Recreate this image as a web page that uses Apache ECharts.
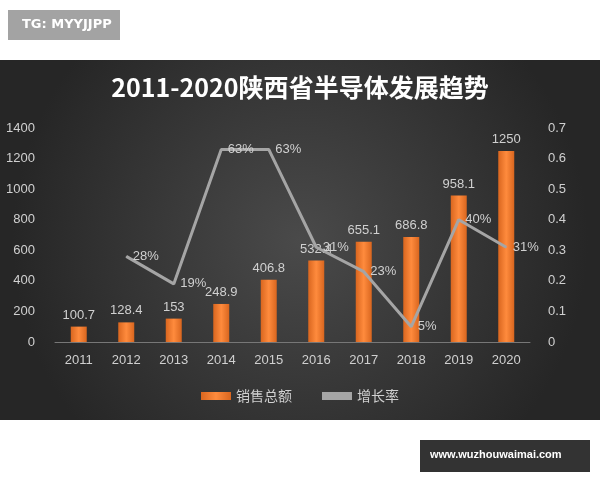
<!DOCTYPE html><html><head><meta charset="utf-8">
<script src="https://cdn.jsdelivr.net/npm/echarts@6/dist/echarts.min.js"></script>
<style>html,body{margin:0;padding:0;background:#fff}#c{width:600px;height:480px}</style></head><body>
<div id="c"></div>
<script>
const years=['2011','2012','2013','2014','2015','2016','2017','2018','2019','2020'];
const sales=[100.7,128.4,153,248.9,406.8,532.4,655.1,686.8,958.1,1250];
const growth=[null,0.28,0.19,0.63,0.63,0.31,0.23,0.05,0.40,0.31];
const chart=echarts.init(document.getElementById('c'));
const txt='#d0d0d0';
chart.setOption({
 backgroundColor:'#fff',
 graphic:[
  {type:'rect',z:-10,shape:{x:0,y:60,width:600,height:360},style:{fill:new echarts.graphic.RadialGradient(0.5,0.5,0.8,[{offset:0,color:'#4a4a4a'},{offset:1,color:'#262626'}])}},
  {type:'rect',shape:{x:8,y:10,width:112,height:30},style:{fill:'#a3a3a3'}},
  {type:'text',left:22,top:18,style:{text:'TG: MYYJJPP',fill:'#fff',font:'bold 13px "DejaVu Sans"'}},
  {type:'rect',shape:{x:420,y:440,width:170,height:32},style:{fill:'#333'}},
  {type:'text',left:430,top:449,style:{text:'www.wuzhouwaimai.com',fill:'#fff',font:'bold 11px "Liberation Sans"'}}
 ],
 title:{text:'2011-2020陕西省半导体发展趋势',left:'center',top:70,textStyle:{color:'#fff',fontSize:25,fontWeight:'bold',fontFamily:'"Noto Sans CJK SC"'}},
 grid:{left:55,right:70,top:128,bottom:138},
 legend:{bottom:72,itemGap:30,textStyle:{color:txt,fontSize:14,fontFamily:'"Noto Sans CJK SC"'},data:[{name:'销售总额',icon:'rect'},{name:'增长率',icon:'rect'}],itemWidth:30,itemHeight:8},
 xAxis:{type:'category',data:years,axisLine:{lineStyle:{color:'#777'}},axisTick:{show:false},axisLabel:{color:txt,fontSize:13,margin:12}},
 yAxis:[
  {type:'value',min:0,max:1400,interval:200,axisLabel:{color:txt,fontSize:13,margin:20,formatter:v=>String(v)},splitLine:{show:false}},
  {type:'value',min:0,max:0.7,interval:0.1,axisLabel:{color:txt,fontSize:13,margin:18,formatter:v=>v===0?'0':v.toFixed(1)},splitLine:{show:false}}
 ],
 series:[
  {name:'销售总额',type:'bar',data:sales,barWidth:16,itemStyle:{color:new echarts.graphic.LinearGradient(0,0,1,0,[{offset:0,color:'#d9661f'},{offset:0.5,color:'#ff8b3d'},{offset:1,color:'#d9661f'}])},
   label:{show:true,position:'top',color:txt,fontSize:13}},
  {name:'增长率',type:'line',yAxisIndex:1,data:growth,symbol:'circle',symbolSize:1,showSymbol:true,lineStyle:{color:'#a5a5a5',width:3},itemStyle:{color:'#a5a5a5'},
   label:{show:true,position:'right',distance:6,color:txt,fontSize:13,formatter:p=>Math.round(p.value*100)+'%'},labelLayout:{hideOverlap:false}}
 ]
});
</script></body></html>
